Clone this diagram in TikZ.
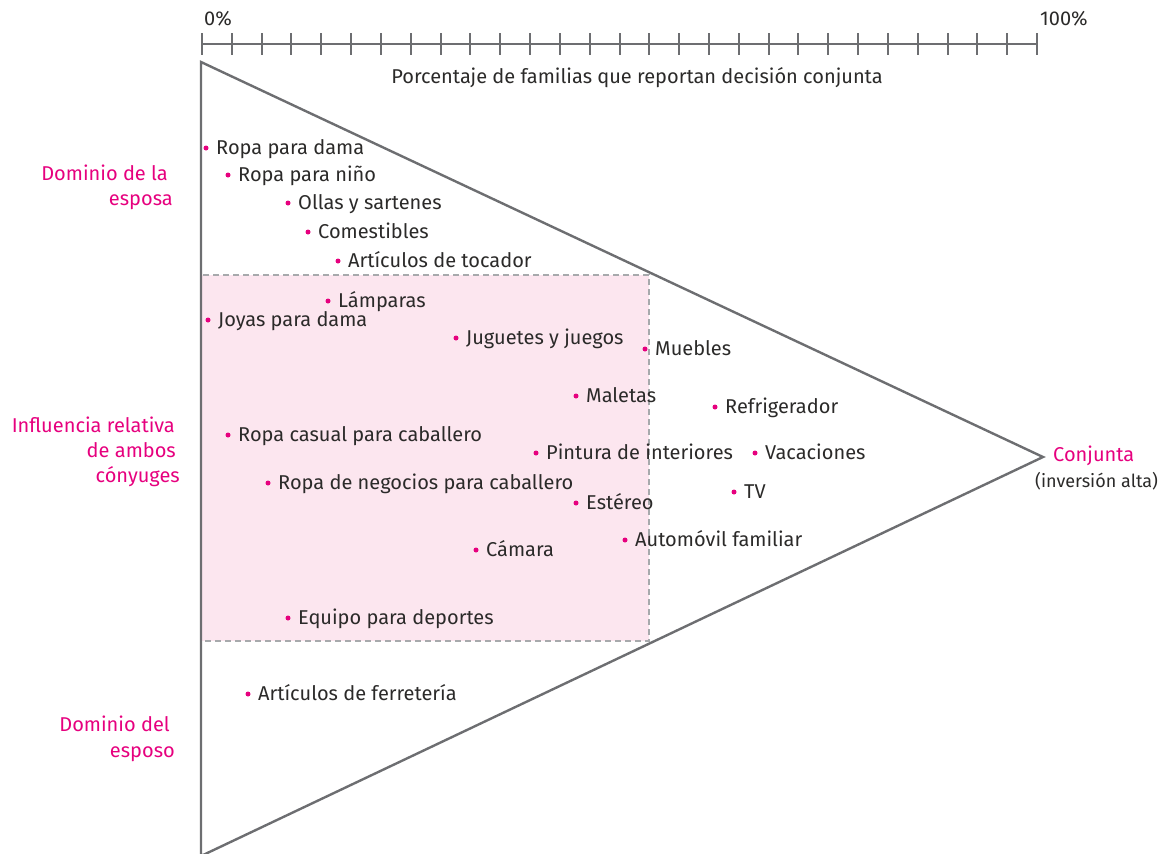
\documentclass[tikz,border=0pt]{standalone}
\usepackage{fontspec}
\setmainfont{Fira Sans}
\definecolor{mag}{HTML}{E6007E}
\definecolor{ln}{HTML}{6D6E71}
\definecolor{txt}{HTML}{2B2A29}
\definecolor{pinkfill}{HTML}{FCE6EF}
\definecolor{dash}{HTML}{A7A9AC}
\begin{document}
\begin{tikzpicture}[x=1pt,y=-1pt,
  itemtext/.style={anchor=base west,inner sep=0pt,text=txt,font=\fontsize{20}{22}\selectfont},
  dotmark/.style={circle,fill=mag,inner sep=0pt,minimum size=5pt},
  sidelabel/.style={anchor=base east,inner sep=0pt,text=mag,font=\fontsize{20}{22}\selectfont},
  frame/.style={draw=ln,line width=2.4pt},
  tick/.style={draw=ln,line width=2pt}]
\useasboundingbox (0,0) rectangle (1170,854);
% shaded area
\path[fill=pinkfill,draw=dash,dash pattern=on 6pt off 4pt,line width=1.2pt] (201,275) rectangle (649,641);
% triangle
\coordinate (top) at (201,62);
\coordinate (bot) at (201,856);
\coordinate (apex) at (1043,457);
\draw[frame,line join=miter] (bot) -- (top) -- (apex) -- (bot);
% axis
\coordinate (a0) at (202,44);
\coordinate (a1) at (1037,44);
\draw[frame] (a0) -- (a1);
\foreach \i in {0,...,28}{
  \draw[tick] ({202+\i*29.8214},33) -- ({202+\i*29.8214},55);
}
\node[itemtext] (p0) at (204,25) {0\%};
\node[itemtext] (p100) at (1040,25) {100\%};
\node[itemtext,anchor=base] (axlab) at (637,83) {Porcentaje de familias que reportan decisión conjunta};
% side labels
\node[sidelabel] (s1a) at (168,180) {Dominio de la};
\node[sidelabel] (s1b) at (173,205) {esposa};
\node[sidelabel] (s2a) at (175,432) {Influencia relativa};
\node[sidelabel] (s2b) at (176,457) {de ambos};
\node[sidelabel] (s2c) at (180,482) {cónyuges};
\node[sidelabel] (s3a) at (170,731) {Dominio del};
\node[sidelabel] (s3b) at (175,757) {esposo};
% conjunta
\node[anchor=base west,inner sep=0pt,text=mag,font=\fontsize{20}{22}\selectfont] (cj) at (1053,461) {Conjunta};
\node[itemtext,font=\fontsize{18}{20}\selectfont] (ia) at (1035,487) {(inversión alta)};
% items
\foreach \n/\x/\y/\t in {
  i1/206/148/Ropa para dama,
  i2/228/175/Ropa para niño,
  i3/288/203/Ollas y sartenes,
  i4/308/232/Comestibles,
  i5/338/261/Artículos de tocador,
  i6/328/301/Lámparas,
  i7/208/320/Joyas para dama,
  i8/456/338/Juguetes y juegos,
  i9/645/349/Muebles,
  i10/576/396/Maletas,
  i11/715/407/Refrigerador,
  i12/228/435/Ropa casual para caballero,
  i13/536/453/Pintura de interiores,
  i14/755/453/Vacaciones,
  i15/268/483/Ropa de negocios para caballero,
  i16/734/492/TV,
  i17/576/503/Estéreo,
  i18/625/540/Automóvil familiar,
  i19/476/550/Cámara,
  i20/288/618/Equipo para deportes,
  i21/248/694/Artículos de ferretería}{
  \node[dotmark] (\n d) at (\x,\y) {};
  \node[itemtext] (\n t) at (\x+10,\y+6) {\t};
}
\end{tikzpicture}
\end{document}
